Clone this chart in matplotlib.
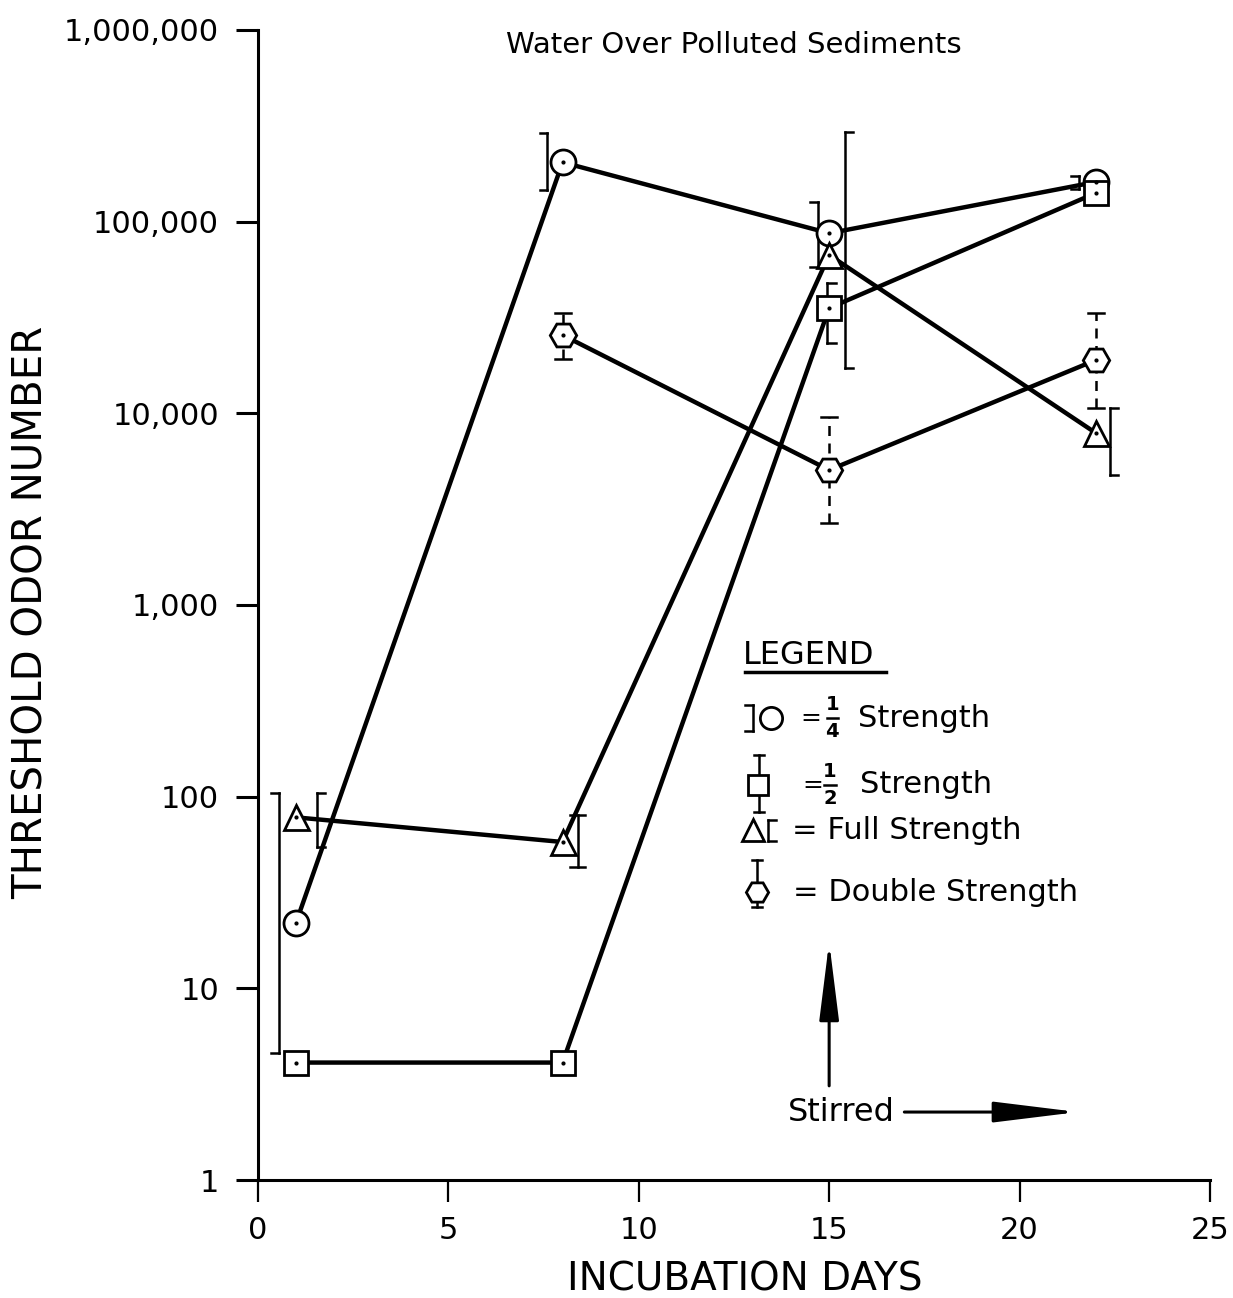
import matplotlib
matplotlib.use("Agg")
import matplotlib.pyplot as plt
import numpy as np

plt.rcParams['font.family'] = ['DejaVu Sans']

# ---------------- data ----------------
days = [1, 8, 15, 22]
quarter = [22, 204000, 87000, 161000]          # 1/4 strength (circle)
half = [4.1, 4.1, 35400, 141000]               # 1/2 strength (square)
full = [78, 58, 67000, 7900]                   # full strength (triangle)
double_days = [8, 15, 22]
double = [25600, 5060, 18950]                  # double strength (hexagon)

# error ranges (low, high) per point
quarter_err_days = [1, 8, 15, 22]
quarter_lo = [4.6, 146000, 58000, 148000]
quarter_hi = [105, 290000, 126000, 173000]
half_err_days = [15]
half_lo = [23300]
half_hi = [47700]
full_err_days = [1, 8, 15, 22]
full_lo = [54.6, 43, 17200, 4750]
full_hi = [105, 80, 293000, 10700]
double_lo = [19300, 2690, 10700]
double_hi = [33300, 9550, 33400]

yticks = [1, 10, 100, 1000, 10000, 100000, 1000000]
ytick_labels = ["1", "10", "100", "1,000", "10,000", "100,000", "1,000,000"]
xticks = [0, 5, 10, 15, 20, 25]

# ---------------- figure ----------------
fig = plt.figure(figsize=(12.33, 12.98), dpi=100)
ax = fig.add_axes([0.2092, 0.0909, 0.7721, 0.886])
ax.set_yscale('log')
ax.set_xlim(0, 25)
ax.set_ylim(1, 1e6)
for s in ['top', 'right']:
    ax.spines[s].set_visible(False)
for s in ['left', 'bottom']:
    ax.spines[s].set_linewidth(2.2)
ax.set_yticks(yticks)
ax.set_yticklabels(ytick_labels)
ax.yaxis.set_minor_locator(matplotlib.ticker.NullLocator())
ax.set_xticks(xticks)
ax.tick_params(axis='y', direction='out', length=16, width=2.2, pad=12, labelsize=22)
ax.tick_params(axis='x', direction='out', length=16, width=1.6, pad=10, labelsize=22)

LW = 3.2
MEW = 2.0
MS = 18
line_kw = dict(color='black', lw=LW, zorder=2)

def marker_kw(m, ms=MS):
    return dict(marker=m, ms=ms, mfc='white', mec='black', mew=MEW, ls='none', zorder=4)

def bracket(axis, x, lo, hi, kind, tick=0.22, ls='-', lw=1.8, transform=None):
    kw = dict(color='black', lw=lw, ls=ls, zorder=3)
    if transform is not None:
        kw['transform'] = transform
    axis.plot([x, x], [lo, hi], **kw)
    kw['ls'] = '-'
    if kind == '[':
        axis.plot([x, x + tick], [lo, lo], **kw)
        axis.plot([x, x + tick], [hi, hi], **kw)
    elif kind == ']':
        axis.plot([x - tick, x], [lo, lo], **kw)
        axis.plot([x - tick, x], [hi, hi], **kw)
    else:
        axis.plot([x - tick / 2, x + tick / 2], [lo, lo], **kw)
        axis.plot([x - tick / 2, x + tick / 2], [hi, hi], **kw)

# lines
ax.plot(days, quarter, **line_kw)
ax.plot(days, half, **line_kw)
ax.plot(days, full, **line_kw)
ax.plot(double_days, double, **line_kw)

# error brackets
q_off = [-0.45, -0.4, -0.3, -0.45]
for d, lo, hi, o in zip(quarter_err_days, quarter_lo, quarter_hi, q_off):
    bracket(ax, d + o, lo, hi, ']', tick=0.2)
for d, lo, hi in zip(half_err_days, half_lo, half_hi):
    bracket(ax, d - 0.05, lo, hi, '[', tick=0.22)
f_off = [0.55, 0.4, 0.42, 0.38]
f_kind = ['[', 'I', '[', '[']
for d, lo, hi, o, k in zip(full_err_days, full_lo, full_hi, f_off, f_kind):
    bracket(ax, d + o, lo, hi, k, tick=0.2 if k == '[' else 0.4)
for d, lo, hi in zip(double_days, double_lo, double_hi):
    bracket(ax, d, lo, hi, 'I', tick=0.42, ls=(0, (4, 3)))

# markers
ax.plot(days, quarter, **marker_kw('o'))
ax.plot(days, half, **marker_kw('s', MS - 1))
ax.plot(days, full, **marker_kw('^', MS))
ax.plot(double_days, double, **marker_kw('H', MS + 1))
for xs, ys in [(days, quarter), (days, half), (days, full), (double_days, double)]:
    ax.plot(xs, ys, marker='.', ms=4, color='black', ls='none', zorder=5)

# title and axis labels
fig.text(0.595, 0.9653, "Water Over Polluted Sediments", ha='center', va='center', fontsize=21)
fig.text(0.026, 0.528, "THRESHOLD ODOR NUMBER", rotation=90, ha='center', va='center', fontsize=29)
fig.text(0.604, 0.0139, "INCUBATION DAYS", ha='center', va='center', fontsize=28)

# Stirred annotation
ax.annotate("", xy=(15, 17.5), xytext=(15, 3.1),
            arrowprops=dict(arrowstyle="-|>,head_length=2.4,head_width=0.3",
                            color='black', lw=2.2, mutation_scale=20,
                            shrinkA=0, shrinkB=0))
ax.text(0.6124, 0.0591, "Stirred", transform=ax.transAxes, ha='center', va='center', fontsize=23)
ax.annotate("", xy=(0.8613, 0.0591), xytext=(0.679, 0.0591), xycoords='axes fraction',
            textcoords='axes fraction',
            arrowprops=dict(arrowstyle="-|>,head_length=2.6,head_width=0.32",
                            color='black', lw=2.2, mutation_scale=20,
                            shrinkA=0, shrinkB=0))

# custom legend
T = ax.transAxes
ax.text(0.5095, 0.4565, "LEGEND", transform=T, ha='left', va='center', fontsize=23)
ax.plot([0.5116, 0.6597], [0.4417, 0.4417], transform=T, color='black', lw=2.5)

LS = 16
FS = 22

def frac(x, y, num, den):
    ax.text(x, y + 0.0115, num, transform=T, ha='center', va='center', fontsize=14, fontweight='bold')
    ax.text(x, y - 0.0115, den, transform=T, ha='center', va='center', fontsize=14, fontweight='bold')
    ax.plot([x - 0.006, x + 0.006], [y, y], transform=T, color='black', lw=1.8)

# row 1
y1 = 0.4017
ax.plot([0.5385], [y1], transform=T, **marker_kw('o', LS))
ax.plot([0.5385], [y1], transform=T, marker='.', ms=3, color='black')
bracket(ax, 0.5200, y1 - 0.011, y1 + 0.011, ']', tick=0.008, transform=T)
ax.text(0.5693, y1, "=", transform=T, ha='left', va='center', fontsize=18)
frac(0.6033, y1, "1", "4")
ax.text(0.630, y1, "Strength", transform=T, ha='left', va='center', fontsize=FS)
# row 2
y2 = 0.3435
ax.plot([0.5252], [y2], transform=T, **marker_kw('s', LS - 1))
bracket(ax, 0.5262, 0.3200, 0.3696, 'I', tick=0.011, transform=T)
ax.text(0.5714, y2, "=", transform=T, ha='left', va='center', fontsize=18)
frac(0.6008, y2, "1", "2")
ax.text(0.632, y2, "Strength", transform=T, ha='left', va='center', fontsize=FS)
# row 3
y3 = 0.3043
ax.plot([0.5200], [y3], transform=T, **marker_kw('^', LS))
ax.plot([0.5200], [y3], transform=T, marker='.', ms=3, color='black')
bracket(ax, 0.5357, 0.2948, 0.3130, '[', tick=0.008, transform=T)
ax.text(0.561, y3, "= Full Strength", transform=T, ha='left', va='center', fontsize=FS)
# row 4
y4 = 0.2504
bracket(ax, 0.5240, 0.2374, 0.2783, 'I', tick=0.011, transform=T)
ax.plot([0.5240], [y4], transform=T, **marker_kw('H', LS))
ax.text(0.562, y4, "= Double Strength", transform=T, ha='left', va='center', fontsize=FS)

fig.savefig("out.png", dpi=100)
